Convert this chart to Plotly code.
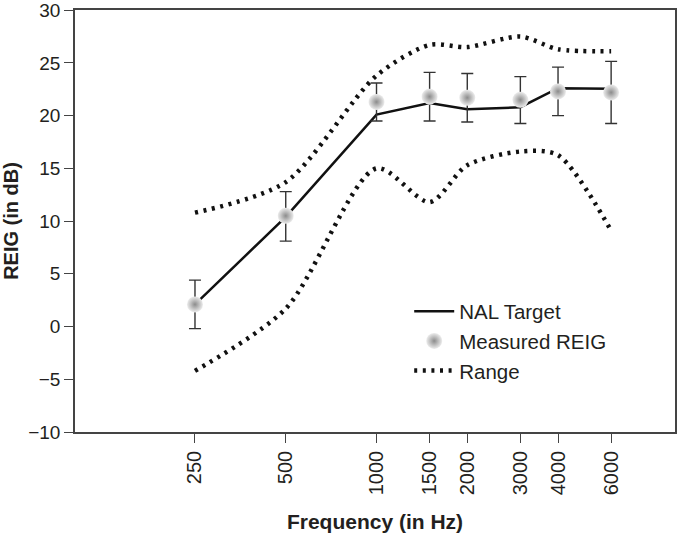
import plotly.graph_objects as go

freqs = [250, 500, 1000, 1500, 2000, 3000, 4000, 6000]
tick_labels = ["250", "500", "1000", "1500", "2000", "3000", "4000", "6000"]
y_ticks = [-10, -5, 0, 5, 10, 15, 20, 25, 30]

nal_target = [2.1, 10.4, 20.1, 21.2, 20.6, 20.8, 22.6, 22.55]
measured = [2.1, 10.5, 21.3, 21.8, 21.7, 21.5, 22.3, 22.2]
err_upper = [4.4, 12.8, 23.1, 24.1, 24.0, 23.7, 24.6, 25.15]
err_lower = [-0.2, 8.1, 19.5, 19.5, 19.4, 19.25, 20.0, 19.25]
range_upper = [10.8, 13.7, 23.8, 26.7, 26.5, 27.5, 26.3, 26.1]
range_lower = [-4.2, 1.7, 15.0, 11.8, 15.3, 16.6, 16.25, 9.1]

FONT = "Liberation Sans, Arial, sans-serif"
TXT = "#231f20"

plus = [u - m for u, m in zip(err_upper, measured)]
minus = [m - l for m, l in zip(measured, err_lower)]

fig = go.Figure()

dot_line = dict(color="#111111", width=4.5, dash="3px,5.6px", shape="spline", smoothing=0.8)

fig.add_trace(go.Scatter(
    x=freqs, y=range_upper, mode="lines", name="Range",
    line=dot_line, showlegend=False,
))
fig.add_trace(go.Scatter(
    x=freqs, y=range_lower, mode="lines", name="Range",
    line=dot_line, showlegend=False,
))
fig.add_trace(go.Scatter(
    x=freqs, y=nal_target, mode="lines", name="NAL Target",
    line=dict(color="#111111", width=2.5),
))
fig.add_trace(go.Scatter(
    x=freqs, y=measured, mode="markers", name="Measured REIG",
    marker=dict(size=16, color="#ededed",
                gradient=dict(type="radial", color="#8c8c8c"),
                line=dict(width=0)),
    error_y=dict(type="data", symmetric=False, array=plus, arrayminus=minus,
                 color="#333333", thickness=1.4, width=6),
))
fig.add_trace(go.Scatter(
    x=[None], y=[None], mode="lines", name="Range",
    line=dict(color="#111111", width=4.5, dash="3px,5.6px"),
))

fig.update_layout(
    width=680, height=533,
    margin=dict(l=75, r=5, t=10, b=101),
    paper_bgcolor="white", plot_bgcolor="white",
    font=dict(family=FONT, size=20, color=TXT),
    showlegend=True,
    legend=dict(x=0.557, y=0.333, xanchor="left", yanchor="top",
                bgcolor="rgba(0,0,0,0)", font=dict(size=20.5, color=TXT),
                tracegroupgap=0, itemwidth=40),
    xaxis=dict(
        type="log", range=[2.0, 3.99], automargin=False,
        tickvals=freqs, ticktext=tick_labels, tickangle=-90,
        ticks="outside", ticklen=9, tickcolor="#444444", tickwidth=1.2,
        showline=True, linecolor="#444444", linewidth=1.5, mirror=True,
        showgrid=False, zeroline=False, ticklabeloverflow="allow",
        tickfont=dict(size=20, color=TXT),
        title=dict(text="<b>Frequency (in Hz)</b>", font=dict(size=21, color=TXT), standoff=20),
    ),
    yaxis=dict(
        range=[-10, 30.02], tickvals=y_ticks, automargin=False,
        ticks="outside", ticklen=9, tickcolor="#444444", tickwidth=1.2,
        showline=True, linecolor="#444444", linewidth=1.5, mirror=True,
        showgrid=False, zeroline=False, ticklabeloverflow="allow",
        tickfont=dict(size=19, color=TXT),
        title=dict(text="<b>REIG (in dB)</b>", font=dict(size=20, color=TXT), standoff=16),
    ),
)

fig.write_html("out.html", config={"displayModeBar": False},
               post_script="document.body.style.margin='0px';")
